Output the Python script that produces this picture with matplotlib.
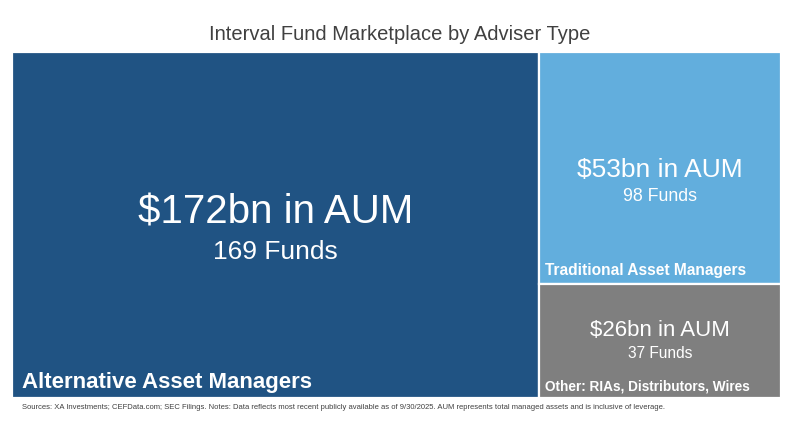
import matplotlib.pyplot as plt
from matplotlib.patches import Rectangle
from matplotlib import font_manager

# Data
groups = ["Alternative Asset Managers", "Traditional Asset Managers", "Other: RIAs, Distributors, Wires"]
aum_bn = [172, 53, 26]
funds = [169, 98, 37]
colors = ["#205383", "#62AEDD", "#7F7F7F"]

names = {f.name for f in font_manager.fontManager.ttflist}
narrow = "Liberation Sans Narrow" if "Liberation Sans Narrow" in names else "Liberation Sans"
plt.rcParams["font.family"] = ["Liberation Sans", "DejaVu Sans"]

fig = plt.figure(figsize=(8, 4.39), dpi=100)
W, H = 769, 346
ax = fig.add_axes([12 / 800, 40 / 439, W / 800, H / 439])
ax.set_xlim(0, W)
ax.set_ylim(H, 0)
ax.axis("off")

# simple treemap: largest block takes full height, the rest stack on the right
total = sum(aum_bn)
w0 = W * aum_bn[0] / total
rest = sum(aum_bn[1:])
rects = [(0, 0, w0, H)]
y = 0
for v in aum_bn[1:]:
    h = H * v / rest
    rects.append((w0, y, W - w0, h))
    y += h

big_sizes = [29, 19, 16]
small_sizes = [19, 12.8, 11.2]
label_sizes = [16, 11.2, 9.8]
# vertical text positions inside each block (pixels from top of treemap)
text_y = [(160, 199, 330), (117, 144, 218), (278, 301, 334)]

for i, (x0, y0, w, h) in enumerate(rects):
    ax.add_patch(Rectangle((x0, y0), w, h, facecolor=colors[i], edgecolor="white", linewidth=1.6))
    cx = x0 + w / 2
    y_main, y_funds, y_lab = text_y[i]
    ax.text(cx, y_main, f"${aum_bn[i]}bn in AUM", color="white", fontsize=big_sizes[i],
            ha="center", va="center")
    ax.text(cx, y_funds, f"{funds[i]} Funds", color="white", fontsize=small_sizes[i],
            ha="center", va="center")
    ax.text(x0 + (10 if i == 0 else 6), y_lab, groups[i], color="white", fontsize=label_sizes[i],
            fontweight="bold", ha="left", va="center")

fig.text(0.5, 1 - 35 / 439, "Interval Fund Marketplace by Adviser Type", ha="center", va="center",
         fontsize=14.5 if narrow == "Liberation Sans" else 17, color="#404040",
         family=[narrow, "DejaVu Sans"])
fig.text(22 / 800, 1 - 408 / 439,
         "Sources: XA Investments; CEFData.com; SEC Filings. Notes: Data reflects most recent publicly "
         "available as of 9/30/2025. AUM represents total managed assets and is inclusive of leverage.",
         ha="left", va="center", fontsize=5.5 if narrow == "Liberation Sans" else 6.6, color="#404040",
         family=[narrow, "DejaVu Sans"])

fig.savefig("out.png", dpi=100, facecolor="white")
